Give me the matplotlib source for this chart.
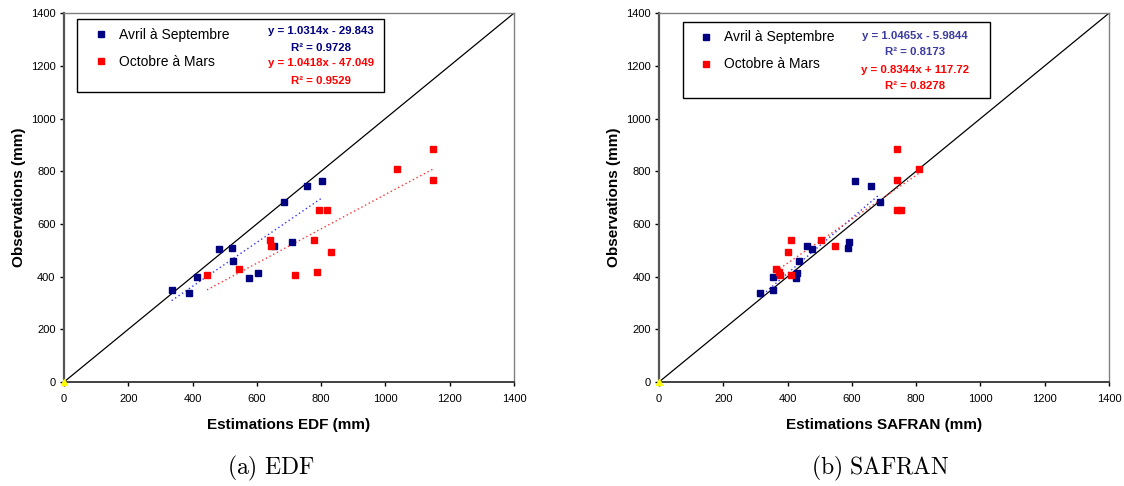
import numpy as np
import matplotlib
matplotlib.use("Agg")
import matplotlib.pyplot as plt
from matplotlib.patches import Rectangle

plt.rcParams['font.family'] = ['Liberation Sans', 'DejaVu Sans']
plt.rcParams['mathtext.fontset'] = 'cm'

# ---- data ----
edf_avr_x = [335, 390, 413, 483, 524, 527, 575, 605, 652, 710, 686, 756, 802]
edf_avr_y = [349, 339, 398, 505, 507, 459, 396, 412, 516, 531, 684, 744, 763]
edf_oct_x = [445, 543, 642, 644, 719, 779, 787, 792, 818, 832, 1037, 1149, 1147]
edf_oct_y = [405, 430, 539, 517, 406, 539, 417, 653, 653, 494, 807, 885, 768]

saf_avr_x = [313, 354, 356, 425, 429, 437, 460, 477, 587, 591, 686, 609, 660]
saf_avr_y = [339, 349, 398, 396, 412, 459, 516, 505, 507, 531, 684, 763, 744]
saf_oct_x = [365, 373, 376, 412, 402, 412, 503, 549, 741, 741, 741, 754, 808]
saf_oct_y = [430, 417, 406, 405, 494, 539, 539, 517, 885, 768, 653, 653, 807]

series_labels = ["Avril à Septembre", "Octobre à Mars"]
edf_eqs = ["y = 1.0314x - 29.843", "R² = 0.9728", "y = 1.0418x - 47.049", "R² = 0.9529"]
saf_eqs = ["y = 1.0465x - 5.9844", "R² = 0.8173", "y = 0.8344x + 117.72", "R² = 0.8278"]
ticks = [0, 200, 400, 600, 800, 1000, 1200, 1400]
diag = [0, 1400]

BLUE = '#000080'
RED = '#FF0000'

fig = plt.figure(figsize=(11.24, 4.86), dpi=100)

def make_panel(left, avr_x, avr_y, oct_x, oct_y, eqs, eq_blue, xlabel, caption, cap_x,
               box, eq_x, eq_ys):
    ax = fig.add_axes([left, 0.214, 0.4004, 0.759])
    ax.set_xlim(0, 1400)
    ax.set_ylim(0, 1400)
    ax.set_xticks(ticks)
    ax.set_yticks(ticks)
    ax.tick_params(direction='out', length=3, width=1, labelsize=8, pad=3,
                   colors='black')
    ax.tick_params(axis='x', pad=6)
    for s in ['top', 'right']:
        ax.spines[s].set_color('#808080')
        ax.spines[s].set_linewidth(1.0)
    ax.spines['left'].set_color('#555555')
    ax.spines['left'].set_linewidth(1.6)
    ax.spines['bottom'].set_color('#333333')
    ax.spines['bottom'].set_linewidth(1.3)

    # 1:1 line
    ax.plot(diag, diag, color='black', lw=0.9, zorder=2)
    ax.plot([diag[0]], [diag[0]], marker='^', color='#FFFF00', ms=4, ls='none',
            clip_on=False, zorder=5)

    # trend lines (least squares on displayed points)
    for xs, ys, c in [(avr_x, avr_y, '#3333FF'), (oct_x, oct_y, '#FF3333')]:
        xs = np.asarray(xs, float); ys = np.asarray(ys, float)
        p = np.polyfit(xs, ys, 1)
        xx = np.array([xs.min(), xs.max()])
        ax.plot(xx, np.polyval(p, xx), color=c, lw=1.0, ls=(0, (1, 2)), zorder=3)

    h1, = ax.plot(avr_x, avr_y, ls='none', marker='s', ms=4.6, color=BLUE,
                  mec=BLUE, zorder=4, label=series_labels[0])
    h2, = ax.plot(oct_x, oct_y, ls='none', marker='s', ms=4.6, color=RED,
                  mec=RED, zorder=4, label=series_labels[1])

    # legend box
    x0, x1, y0, y1 = box
    ax.add_patch(Rectangle((x0, y0), x1 - x0, y1 - y0, transform=ax.transAxes,
                           fill=True, facecolor='white', edgecolor='black',
                           lw=1.0, zorder=6))
    leg = ax.legend(handles=[h1, h2], loc='upper left',
                    bbox_to_anchor=(x0 + 0.036, y1 - 0.023), borderaxespad=0,
                    borderpad=0, frameon=False, fontsize=10, handlelength=1.0,
                    handletextpad=0.8, labelspacing=0.93, markerscale=0.8)
    leg.set_zorder(7)

    cols = [eq_blue, eq_blue, RED, RED]
    for t, c, yy in zip(eqs, cols, eq_ys):
        ax.text(eq_x, yy, t, transform=ax.transAxes, ha='center', va='center',
                color=c, fontsize=8.2, fontweight='bold', zorder=8)

    ax.set_xlabel(xlabel, fontsize=11, fontweight='bold', labelpad=10)
    ax.set_ylabel("Observations (mm)", fontsize=11, fontweight='bold', labelpad=3.5)
    fig.text(cap_x, 0.037, caption, ha='center', va='center', fontsize=17)
    return ax

make_panel(0.0569, edf_avr_x, edf_avr_y, edf_oct_x, edf_oct_y, edf_eqs, BLUE,
           "Estimations EDF (mm)", r"$\mathrm{(a)\ EDF}$", 0.241,
           (0.030, 0.711, 0.785, 0.983), 0.571, [0.951, 0.905, 0.866, 0.817])
make_panel(0.5863, saf_avr_x, saf_avr_y, saf_oct_x, saf_oct_y, saf_eqs, '#3B3BA0',
           "Estimations SAFRAN (mm)", r"$\mathrm{(b)\ SAFRAN}$", 0.783,
           (0.053, 0.735, 0.770, 0.976), 0.569, [0.938, 0.895, 0.847, 0.802])

fig.savefig("out.png", dpi=100)
